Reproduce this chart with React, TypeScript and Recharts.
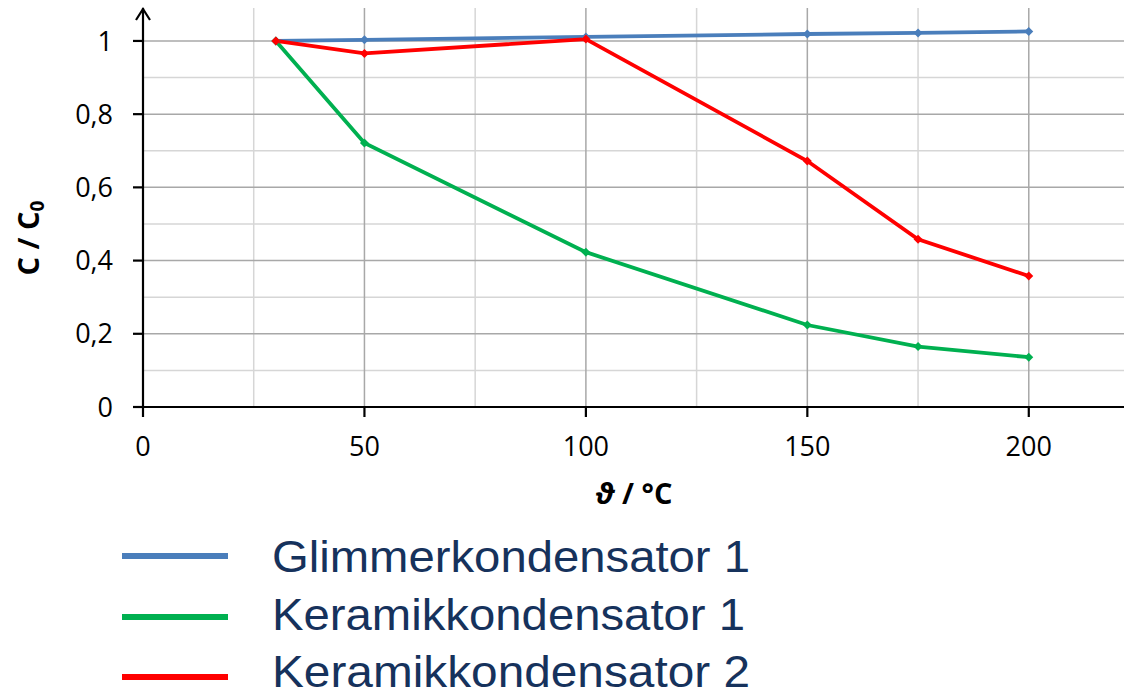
import React from 'react';
import { LineChart, Line, XAxis, YAxis, CartesianGrid, Legend, ReferenceDot } from 'recharts';

const temps = [30, 50, 100, 150, 175, 200];
const glimmer1 = [1.0, 1.003, 1.011, 1.019, 1.022, 1.026];
const keramik1 = [1.0, 0.721, 0.423, 0.224, 0.165, 0.136];
const keramik2 = [1.0, 0.966, 1.005, 0.672, 0.458, 0.358];

const xTicks = [0, 50, 100, 150, 200];
const yTicks = [0, 0.2, 0.4, 0.6, 0.8, 1];
const xMinorGrid = [25, 75, 125, 175];
const xMajorGrid = [50, 100, 150, 200];
const yMinorGrid = [0.1, 0.3, 0.5, 0.7, 0.9];
const yMajorGrid = [0.2, 0.4, 0.6, 0.8, 1.0];

const seriesNames = ['Glimmerkondensator 1', 'Keramikkondensator 1', 'Keramikkondensator 2'];
const seriesColors = ['#4a7ebb', '#00b050', '#ff0000'];

const data = temps.map((t, i) => ({ t, g1: glimmer1[i], k1: keramik1[i], k2: keramik2[i] }));

const Diamond = (props: any) => {
  const { cx, cy, stroke } = props;
  if (cx == null || cy == null) return null;
  const s = 4.5;
  return <path d={`M${cx},${cy - s} L${cx + s},${cy} L${cx},${cy + s} L${cx - s},${cy} Z`} fill={stroke} stroke="none" />;
};

const Arrow = (props: any) => {
  const { cx, cy } = props;
  return <path d={`M${cx - 7},${cy + 12} L${cx},${cy + 1} L${cx + 7},${cy + 12}`} stroke="#000" strokeWidth={2.2} fill="none" />;
};

const tickFont = { fontFamily: 'Open Sans, sans-serif', fontSize: 27, fill: '#000' };

const legendLineY = [36, 97, 157];
const legendTextY = [52, 110, 167];
const legendTextLen = [478, 473, 478];

const LegendContent = (props: any) => {
  const { payload } = props;
  return (
    <svg width={1124} height={171} style={{ display: 'block' }}>
      {(payload || []).map((p: any, i: number) => (
        <g key={i}>
          <line x1={122} x2={228} y1={legendLineY[i]} y2={legendLineY[i]} stroke={p.color} strokeWidth={6} />
          <text x={272} y={legendTextY[i]} fontFamily="Liberation Sans, Arial, sans-serif" fontSize={44} fill="#16325c"
            textLength={legendTextLen[i]} lengthAdjust="spacingAndGlyphs">{p.value}</text>
        </g>
      ))}
    </svg>
  );
};

export default function App() {
  return (
    <div style={{ position: 'absolute', left: 0, top: 0, width: 1124, height: 691, background: '#fff', overflow: 'hidden' }}>
      <LineChart width={1124} height={691} data={data} margin={{ top: 8, right: 0, left: 0, bottom: 184 }}>
        <CartesianGrid stroke="#d6d6d6" strokeWidth={1.5} horizontalValues={yMinorGrid} verticalValues={xMinorGrid} />
        <CartesianGrid stroke="#a8a8a8" strokeWidth={1.5} horizontalValues={yMajorGrid} verticalValues={xMajorGrid} />
        <XAxis
          type="number"
          dataKey="t"
          domain={[0, 221.5]}
          allowDataOverflow
          ticks={xTicks}
          interval={0}
          height={100}
          axisLine={{ stroke: '#000', strokeWidth: 2.2 }}
          tickLine={{ stroke: '#000', strokeWidth: 2.2 }}
          tickSize={10}
          tickMargin={20}
          tick={tickFont}
          label={{
            content: (p: any) => {
              const vb = p.viewBox || {};
              const cx = (vb.x || 0) + (vb.width || 0) / 2;
              const y = (vb.y || 0) + 97;
              return (
                <text x={cx} y={y} textAnchor="middle" fontFamily="Open Sans, sans-serif" fontWeight="bold" fontSize={29} fill="#000">
                  <tspan fontStyle="italic">ϑ</tspan> / °C
                </text>
              );
            },
          }}
        />
        <YAxis
          type="number"
          domain={[0, 1.09]}
          allowDataOverflow
          ticks={yTicks}
          interval={0}
          width={143}
          axisLine={{ stroke: '#000', strokeWidth: 2.2 }}
          tickLine={{ stroke: '#000', strokeWidth: 2.2 }}
          tickSize={10}
          tickMargin={20}
          tick={tickFont}
          tickFormatter={(v: number) => String(Number(v.toFixed(1))).replace('.', ',')}
          label={{
            content: () => (
              <text x={39} y={238} transform="rotate(-90 39 238)" textAnchor="middle" fontFamily="Open Sans, sans-serif" fontWeight="bold" fontSize={29} fill="#000">
                C / C<tspan fontSize={19} dy={5}>0</tspan>
              </text>
            ),
          }}
        />
        <ReferenceDot x={0} y={1.09} r={0} ifOverflow="visible" shape={Arrow} />
        <Line type="linear" dataKey="g1" name={seriesNames[0]} stroke={seriesColors[0]} strokeWidth={3.8} dot={Diamond} activeDot={false} isAnimationActive={false} />
        <Line type="linear" dataKey="k1" name={seriesNames[1]} stroke={seriesColors[1]} strokeWidth={3.8} dot={Diamond} activeDot={false} isAnimationActive={false} />
        <Line type="linear" dataKey="k2" name={seriesNames[2]} stroke={seriesColors[2]} strokeWidth={3.8} dot={Diamond} activeDot={false} isAnimationActive={false} />
        <Legend layout="horizontal" verticalAlign="middle" align="center" wrapperStyle={{ position: 'absolute', top: 520, left: 0, width: 1124 }} content={LegendContent} />
      </LineChart>
    </div>
  );
}
